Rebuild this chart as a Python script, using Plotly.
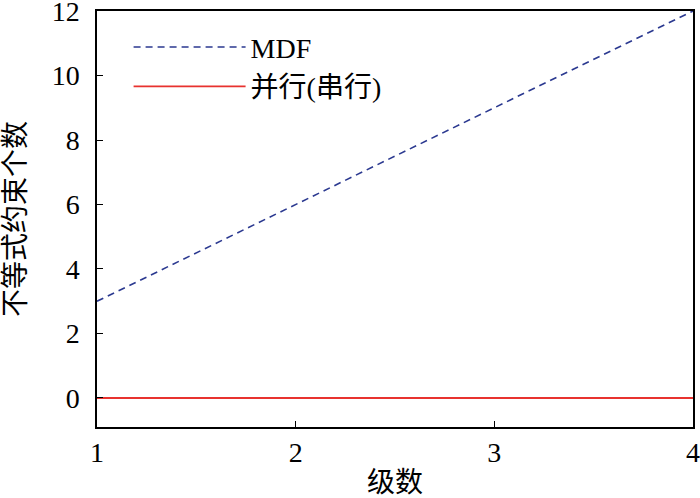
import plotly.graph_objects as go

stages = [1, 2, 3, 4]
mdf_counts = [3, 6, 9, 12]
parallel_counts = [0, 0, 0, 0]
y_ticks = [0, 2, 4, 6, 8, 10, 12]

font_family = "Liberation Serif, Times New Roman, Noto Sans CJK SC, serif"

fig = go.Figure()
fig.add_trace(go.Scatter(
    x=stages, y=mdf_counts, name="MDF", mode="lines",
    line=dict(color="#2B3990", width=1.6, dash="7px,5px")
))
fig.add_trace(go.Scatter(
    x=stages, y=parallel_counts, name="并行(串行)", mode="lines",
    line=dict(color="#E8322F", width=1.8)
))

axis_style = dict(
    showline=True, linecolor="black", linewidth=1.5, mirror=True,
    ticks="inside", ticklen=6, tickcolor="black", showgrid=False,
    zeroline=False, tickfont=dict(size=28, color="black"), automargin=False,
    ticklabeloverflow="allow",
)
fig.update_xaxes(range=[1, 4.0001], tickvals=stages,
                 title=dict(text="级数", font=dict(size=28), standoff=12), **axis_style)
fig.update_yaxes(range=[-0.9, 12.0005], tickvals=y_ticks, ticklabelstandoff=10,
                 title=dict(text="不等式约束个数", font=dict(size=28), standoff=22), **axis_style)

fig.update_layout(
    width=700, height=498,
    margin=dict(l=97, r=7, t=11, b=71),
    plot_bgcolor="white", paper_bgcolor="white",
    font=dict(family=font_family, color="black"),
    legend=dict(x=0.053, y=0.973, xanchor="left", yanchor="top",
                bgcolor="rgba(0,0,0,0)", font=dict(size=28), itemwidth=112,
                tracegroupgap=0),
)

# drop the default page margin so the figure sits at the window's corner
fig.write_html("out.html", config={"displayModeBar": False},
               post_script="document.body.style.margin='0';")
